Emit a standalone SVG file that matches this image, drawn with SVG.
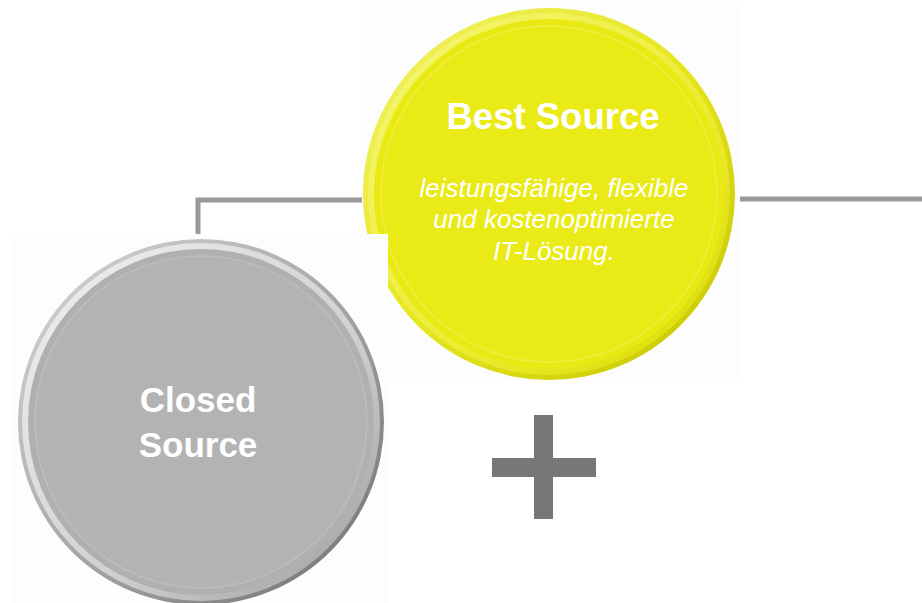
<svg xmlns="http://www.w3.org/2000/svg" width="922" height="603" viewBox="0 0 922 603">
  <defs>
    <linearGradient id="grayRim" x1="0" y1="0" x2="1" y2="1">
      <stop offset="0" stop-color="#d8d8d8"/>
      <stop offset="0.5" stop-color="#a8a8a8"/>
      <stop offset="1" stop-color="#6e6e6e"/>
    </linearGradient>
    <linearGradient id="grayHi" x1="0" y1="0" x2="1" y2="1">
      <stop offset="0" stop-color="#f2f2f2"/>
      <stop offset="0.6" stop-color="#cfcfcf"/>
      <stop offset="1" stop-color="#9a9a9a"/>
    </linearGradient>
    <linearGradient id="yelRim" x1="0" y1="0" x2="1" y2="1">
      <stop offset="0" stop-color="#f2f26a"/>
      <stop offset="0.5" stop-color="#e6e61e"/>
      <stop offset="1" stop-color="#c4c400"/>
    </linearGradient>
    <linearGradient id="yelHi" x1="0" y1="0" x2="1" y2="1">
      <stop offset="0" stop-color="#f6f67a"/>
      <stop offset="0.6" stop-color="#ecec30"/>
      <stop offset="1" stop-color="#d8d800"/>
    </linearGradient>
  </defs>
  <style>
    .conn { fill: none; stroke: #999999; stroke-width: 5; }
    .bold { font-family: "Liberation Sans", Arial, sans-serif; font-weight: bold; fill: #ffffff; text-anchor: middle; }
    .ital { font-family: "Liberation Sans", Arial, sans-serif; font-style: italic; fill: #ffffff; text-anchor: middle; font-size: 26px; }
    .plus { fill: #777777; }
    .bg { fill: #fdfdfd; }
  </style>
  <rect width="922" height="603" fill="#ffffff"/>

  <g id="connectors">
    <polyline class="conn" points="198,240 198,200 370,200"/>
    <line class="conn" x1="730" y1="199" x2="922" y2="199"/>
  </g>

  <g id="best-source">
    <rect class="bg" x="362" y="6" width="378" height="374"/>
    <circle cx="549" cy="194" r="186" fill="url(#yelRim)"/>
    <circle cx="549" cy="194" r="181" fill="url(#yelHi)"/>
    <circle cx="549" cy="194" r="175" fill="#e9e914"/>
    <circle cx="549" cy="194" r="168" fill="#eaea16" stroke="#efef40" stroke-width="1.5"/>
    <text class="bold" x="553" y="129" font-size="36.5">Best Source</text>
    <text class="ital" x="554" y="197">leistungsfähige, flexible</text>
    <text class="ital" x="554" y="228">und kostenoptimierte</text>
    <text class="ital" x="554" y="260">IT-Lösung.</text>
  </g>

  <g id="closed-source">
    <rect class="bg" x="13" y="234" width="375" height="369"/>
    <circle cx="201" cy="422" r="183" fill="url(#grayRim)"/>
    <circle cx="201" cy="422" r="179" fill="url(#grayHi)"/>
    <circle cx="201" cy="422" r="173" fill="#b0b0b0"/>
    <circle cx="201" cy="422" r="166" fill="#b3b3b3" stroke="#bdbdbd" stroke-width="1.5"/>
    <text class="bold" x="198" y="412" font-size="35">Closed</text>
    <text class="bold" x="198" y="457" font-size="35">Source</text>
  </g>

  <g id="plus">
    <rect class="plus" x="534" y="415" width="19" height="104"/>
    <rect class="plus" x="492" y="458" width="104" height="19"/>
  </g>
</svg>
